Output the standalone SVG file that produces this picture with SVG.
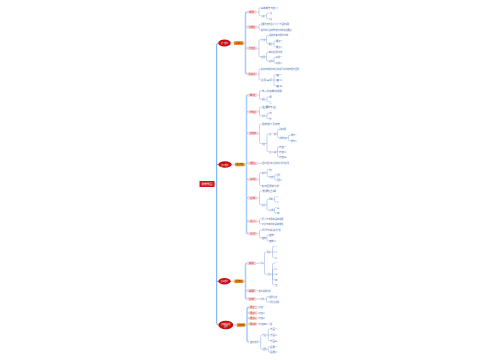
<svg xmlns="http://www.w3.org/2000/svg" width="500" height="360" viewBox="0 0 500 360">
<style>
.bg{fill:#ffffff}
.m{fill:none;stroke:#5f9ef5;stroke-width:0.9}
.s{fill:none;stroke:#a9cbf7;stroke-width:1.5}
.c{fill:none;stroke:#7aa2ee;stroke-width:0.45}
text{font-family:"Noto Sans CJK SC","Noto Sans",sans-serif;dominant-baseline:central}
.t{font-size:2.3px;fill:#5672b8}
.pk{fill:#f9d3d7}
.pt{font-size:2.2px;fill:#c0392b;text-anchor:middle}
.el{fill:#c80f0f}
.et{font-size:2.2px;fill:#ffffff;text-anchor:middle}
.or{fill:#f08a1c}
.ot{font-size:2.1px;fill:#6b2a00;text-anchor:middle}
.rt{fill:#c8161d}
</style>
<rect class="bg" x="0" y="0" width="500" height="360"/>
<g id="connectors">
<path class="m" d="M214.5 184 H216.7 M218.3 43 Q216.7 43 216.7 45 V323 Q216.7 325 218.3 325 M216.7 164.5 H218.3 M216.7 281.3 H218.3"/>
<path class="c" d="M230.8 43 H234 M231.7 164.5 H235 M230.7 281.3 H234.3 M233.3 325 H236.7"/>
<path class="s" d="M243.3 43 H245.5 M247.3 12 Q245.5 12 245.5 14 V72 Q245.5 74 247.3 74 M245.5 27 H247.3 M245.5 48.3 H247.3"/>
<path class="s" d="M244.5 164.5 H246.5 M248.3 95 Q246.5 95 246.5 97 V231.7 Q246.5 233.7 248.3 233.7 M246.5 111.7 H248.3 M246.5 133.3 H248.3 M246.5 163.3 H248.3 M246.5 179.3 H248.3 M246.5 198 H248.3 M246.5 221.3 H248.3"/>
<path class="s" d="M243.3 281.3 H245.5 M247.3 263.3 Q245.5 263.3 245.5 265.3 V297 Q245.5 299 247.3 299 M245.5 290.7 H247.3"/>
<path class="s" d="M245.2 325 H247 M249 307.3 Q247 307.3 247 309.3 V339.7 Q247 341.7 249 341.7 M247 313 H249 M247 318.3 H249 M247 324 H249"/>
<path class="c" d="M256.3 12 H259 M259 12 V8.7 Q259 7.7 260 7.7 H260.5 M259 12 V14.7 Q259 15.7 260 15.7 H260.8
M264.5 15.7 H266.5 M266.5 15.7 V14.3 Q266.5 13.3 267.5 13.3 H268.5 M266.5 15.7 V17.7 Q266.5 18.7 267.5 18.7 H268.5
M256.8 27 H259 M259 27 V25.3 Q259 24.3 260 24.3 H260.5 M259 27 V28.7 Q259 29.7 260 29.7 H260.5
M256.8 48.3 H259 M259 48.3 V40.7 Q259 39.7 260 39.7 H260.8 M259 48.3 V55.7 Q259 56.7 260 56.7 H260.8
M265 39.7 H266.5 M266.5 39.7 V36.3 Q266.5 35.3 267.5 35.3 H268.5 M266.5 39.7 V42.7 Q266.5 43.7 267.5 43.7 H268.5
M272.3 43.7 H274 M274 43.7 V42 Q274 41 275 41 H275.8 M274 43.7 V45.7 Q274 46.7 275 46.7 H275.8
M265 56.7 H266.5 M266.5 56.7 V53.3 Q266.5 52.3 267.5 52.3 H268.5 M266.5 56.7 V60 Q266.5 61 267.5 61 H268.5
M272.7 61 H274 M274 61 V58.3 Q274 57.3 275 57.3 H275.8 M274 61 V62 Q274 63 275 63 H275.8
M257 74 H259 M259 74 V70 Q259 69 260 69 H260.5 M259 74 V79 Q259 80 260 80 H260.5
M271.7 80 H275.8 M274 80 V75.7 Q274 74.7 275 74.7 H275.8 M274 80 V84.7 Q274 85.7 275 85.7 H275.8"/>
<path class="c" d="M257 95 H259.5 M259.5 95 V91.7 Q259.5 90.7 260.5 90.7 H261.5 M259.5 95 V98.3 Q259.5 99.3 260.5 99.3 H261.5
M265 99.3 H267 M267 99.3 V97.7 Q267 96.7 268 96.7 H268.8 M267 99.3 V100.7 Q267 101.7 268 101.7 H268.8
M257.5 111.7 H259.5 M259.5 111.7 V108.3 Q259.5 107.3 260.5 107.3 H261.5 M259.5 111.7 V115 Q259.5 116 260.5 116 H261.5
M265 116 H267 M267 116 V114.3 Q267 113.3 268 113.3 H268.8 M267 116 V117.7 Q267 118.7 268 118.7 H268.8
M258 133.3 H259.5 M259.5 133.3 V125.3 Q259.5 124.3 260.5 124.3 H261.5 M259.5 133.3 V142.5 Q259.5 143.5 260.5 143.5 H261.5
M265 143.5 H267 M267 143.5 V135 Q267 134 268 134 H268.8 M267 143.5 V150.7 Q267 151.7 268 151.7 H268.8
M276 134 H277.5 M277.5 134 V130.3 Q277.5 129.3 278.5 129.3 H278.8 M277.5 134 V136.7 Q277.5 137.7 278.5 137.7 H278.8
M286.7 137.7 H288.5 M288.5 137.7 V136.3 Q288.5 135.3 289.5 135.3 H290.5 M288.5 137.7 V139.7 Q288.5 140.7 289.5 140.7 H290.5
M276 151.7 H278.8 M277.5 151.7 V147.7 Q277.5 146.7 278.5 146.7 H278.8 M277.5 151.7 V156 Q277.5 157 278.5 157 H278.8
M257.5 163.3 H261.8
M257.5 179.3 H259.5 M259.5 179.3 V173.7 Q259.5 172.7 260.5 172.7 H261.5 M259.5 179.3 V184.5 Q259.5 185.5 260.5 185.5 H261.5
M265.7 172.7 H267.2 M267.2 172.7 V170.5 Q267.2 169.5 268.2 169.5 H268.8 M267.2 172.7 V175.7 Q267.2 176.7 268.2 176.7 H268.8
M273 176.7 H274.7 M274.7 176.7 V175.7 Q274.7 174.7 275.7 174.7 H276.5 M274.7 176.7 V179 Q274.7 180 275.7 180 H276.5
M257 198 H259.5 M259.5 198 V192 Q259.5 191 260.5 191 H261.5 M259.5 198 V203.7 Q259.5 204.7 260.5 204.7 H261.5
M265 204.7 H267 M267 204.7 V200.3 Q267 199.3 268 199.3 H268.8 M267 204.7 V209.3 Q267 210.3 268 210.3 H268.8
M272.7 199.3 H274.5 M274.5 199.3 V197.7 Q274.5 196.7 275.5 196.7 H276.5 M274.5 199.3 V201 Q274.5 202 275.5 202 H276.5
M273.3 210.3 H274.5 M274.5 210.3 V208.7 Q274.5 207.7 275.5 207.7 H276.5 M274.5 210.3 V212 Q274.5 213 275.5 213 H276.5
M257.3 221.3 H259.5 M259.5 221.3 V219.7 Q259.5 218.7 260.5 218.7 H261.5 M259.5 221.3 V223 Q259.5 224 260.5 224 H261.5
M257.3 233.7 H259.5 M259.5 233.7 V231 Q259.5 230 260.5 230 H261.5 M259.5 233.7 V237 Q259.5 238 260.5 238 H261.5
M265.7 238 H267 M267 238 V236.3 Q267 235.3 268 235.3 H268.8 M267 238 V240 Q267 241 268 241 H268.8"/>
<path class="c" d="M256 263.3 H259.8
M263 263.3 H264.5 M264.5 263.3 V253 Q264.5 252 265.5 252 H266.5 M264.5 263.3 V273.3 Q264.5 274.3 265.5 274.3 H266.5
M270 252 H274.8 M272.5 252 V247.7 Q272.5 246.7 273.5 246.7 H274.8 M272.5 252 V256.5 Q272.5 257.5 273.5 257.5 H274.8
M270 274.3 H274.8 M272.5 274.3 V264.3 Q272.5 263.3 273.5 263.3 H274.8 M272.5 274.3 V270 Q272.5 269 273.5 269 H274.8 M272.5 274.3 V278.7 Q272.5 279.7 273.5 279.7 H274.8 M272.5 274.3 V284 Q272.5 285 273.5 285 H274.8
M256 290.7 H258.3
M256 299 H259.8 M264 299 H266.5 M266.5 299 V297.7 Q266.5 296.7 267.5 296.7 H268.8 M266.5 299 V301 Q266.5 302 267.5 302 H268.8"/>
<path class="c" d="M257.3 307.3 H258.3 M257.3 313 H258.3 M257.3 318.3 H258.3 M257.3 324 H258.3 M266.5 324 H269.8
M258.3 341.7 H260.7 M260.7 341.7 V336 Q260.7 335 261.7 335 H262.5 M260.7 341.7 V348.3 Q260.7 349.3 261.7 349.3 H262.5
M266 335 H269.8 M268.3 335 V330.3 Q268.3 329.3 269.3 329.3 H269.8 M268.3 335 V339.7 Q268.3 340.7 269.3 340.7 H269.8
M266 349.3 H268.3 M268.3 349.3 V347.7 Q268.3 346.7 269.3 346.7 H269.8 M268.3 349.3 V351 Q268.3 352 269.3 352 H269.8"/>
</g>
<g id="root"><rect class="rt" x="199.5" y="181" width="15" height="6"/><text class="et" x="207" y="184" textLength="11" lengthAdjust="spacingAndGlyphs">思维导图</text></g>
<g id="b1"><ellipse class="el" cx="224.5" cy="43" rx="6.3" ry="3.6"/><text class="et" x="224.5" y="43" textLength="7" lengthAdjust="spacingAndGlyphs">第一部分</text></g>
<g id="b1l"><rect class="or" x="234" y="41.3" width="9.3" height="3.6"/><text class="ot" x="238.6" y="43.1" textLength="6.5" lengthAdjust="spacingAndGlyphs">基础知识</text></g>
<g id="b2"><ellipse class="el" cx="225" cy="164.5" rx="6.7" ry="3.2"/><text class="et" x="225" y="164.5" textLength="7.5" lengthAdjust="spacingAndGlyphs">第二部分</text></g>
<g id="b2l"><rect class="or" x="235" y="162.8" width="9.5" height="3.4"/><text class="ot" x="239.7" y="164.5" textLength="6.5" lengthAdjust="spacingAndGlyphs">核心内容</text></g>
<g id="b3"><ellipse class="el" cx="224.5" cy="281.3" rx="6.2" ry="3.2"/><text class="et" x="224.5" y="281.3" textLength="7" lengthAdjust="spacingAndGlyphs">第三部分</text></g>
<g id="b3l"><rect class="or" x="234.3" y="279.6" width="9" height="3.4"/><text class="ot" x="238.8" y="281.3" textLength="6.3" lengthAdjust="spacingAndGlyphs">拓展知识</text></g>
<g id="b4"><ellipse class="el" cx="225.8" cy="325" rx="7.5" ry="4.2"/><text class="et" x="225.8" y="323.8" textLength="9" lengthAdjust="spacingAndGlyphs">第四部分总结</text><text class="et" x="225.8" y="326.4" textLength="3.5" lengthAdjust="spacingAndGlyphs">回顾</text></g>
<g id="b4l"><rect class="or" x="236.7" y="323.3" width="8.5" height="3.4"/><text class="ot" x="240.9" y="325" textLength="6" lengthAdjust="spacingAndGlyphs">总结归纳</text></g>
<g id="pA"><rect class="pk" x="247.3" y="10.3" width="9" height="3.4"/><text class="pt" x="251.8" y="12" textLength="5" lengthAdjust="spacingAndGlyphs">概念</text></g>
<g id="pB"><rect class="pk" x="247.3" y="25.3" width="9.7" height="3.4"/><text class="pt" x="252.1" y="27" textLength="6" lengthAdjust="spacingAndGlyphs">内容要点</text></g>
<g id="pC"><rect class="pk" x="247.3" y="46.6" width="9.7" height="3.4"/><text class="pt" x="252.1" y="48.3" textLength="6" lengthAdjust="spacingAndGlyphs">方法应用</text></g>
<g id="pD"><rect class="pk" x="247.3" y="72.3" width="9.7" height="3.4"/><text class="pt" x="252.1" y="74" textLength="6.5" lengthAdjust="spacingAndGlyphs">总结注意</text></g>
<g id="pE"><rect class="pk" x="248.3" y="93.3" width="8.7" height="3.4"/><text class="pt" x="252.6" y="95" textLength="5.5" lengthAdjust="spacingAndGlyphs">概述</text></g>
<g id="pF"><rect class="pk" x="248.3" y="110" width="9.2" height="3.4"/><text class="pt" x="252.9" y="111.7" textLength="5.5" lengthAdjust="spacingAndGlyphs">特征</text></g>
<g id="pG"><rect class="pk" x="248.3" y="131.6" width="9.7" height="3.4"/><text class="pt" x="253.1" y="133.3" textLength="6" lengthAdjust="spacingAndGlyphs">结构组成</text></g>
<g id="pH"><rect class="pk" x="248.3" y="161.6" width="9.2" height="3.4"/><text class="pt" x="252.9" y="163.3" textLength="5.5" lengthAdjust="spacingAndGlyphs">理论</text></g>
<g id="pI"><rect class="pk" x="248.3" y="177.6" width="9.2" height="3.4"/><text class="pt" x="252.9" y="179.3" textLength="5.5" lengthAdjust="spacingAndGlyphs">条件</text></g>
<g id="pJ"><rect class="pk" x="248.3" y="196.3" width="8.7" height="3.4"/><text class="pt" x="252.6" y="198" textLength="5.5" lengthAdjust="spacingAndGlyphs">过程</text></g>
<g id="pK"><rect class="pk" x="248.3" y="219.6" width="9" height="3.4"/><text class="pt" x="252.8" y="221.3" textLength="5.5" lengthAdjust="spacingAndGlyphs">意义</text></g>
<g id="pL"><rect class="pk" x="248.3" y="232" width="9" height="3.4"/><text class="pt" x="252.8" y="233.7" textLength="5.5" lengthAdjust="spacingAndGlyphs">问题</text></g>
<g id="pM"><rect class="pk" x="247.3" y="261.6" width="8.7" height="3.4"/><text class="pt" x="251.6" y="263.3" textLength="5.5" lengthAdjust="spacingAndGlyphs">类别</text></g>
<g id="pN"><rect class="pk" x="247.3" y="289" width="8.7" height="3.4"/><text class="pt" x="251.6" y="290.7" textLength="5.5" lengthAdjust="spacingAndGlyphs">说明</text></g>
<g id="pO"><rect class="pk" x="247.3" y="297.3" width="8.7" height="3.4"/><text class="pt" x="251.6" y="299" textLength="5.5" lengthAdjust="spacingAndGlyphs">比较</text></g>
<g id="pP"><rect class="pk" x="249" y="305.6" width="8.3" height="3.4"/><text class="pt" x="253.1" y="307.3" textLength="5.5" lengthAdjust="spacingAndGlyphs">要点一</text></g>
<g id="pQ"><rect class="pk" x="249" y="311.3" width="8.3" height="3.4"/><text class="pt" x="253.1" y="313" textLength="5.5" lengthAdjust="spacingAndGlyphs">要点二</text></g>
<g id="pR"><rect class="pk" x="249" y="316.6" width="8.3" height="3.4"/><text class="pt" x="253.1" y="318.3" textLength="5.5" lengthAdjust="spacingAndGlyphs">要点三</text></g>
<g id="pS"><rect class="pk" x="249" y="322.3" width="8.3" height="3.4"/><text class="pt" x="253.1" y="324" textLength="5.5" lengthAdjust="spacingAndGlyphs">要点四</text></g>
<g id="leaves">
<g id="tA1"><text class="t" x="260.7" y="7.7" textLength="17" lengthAdjust="spacingAndGlyphs">基本概念与定义</text></g>
<g id="tA2"><text class="t" x="261" y="15.7" textLength="3.5" lengthAdjust="spacingAndGlyphs">分类</text></g>
<g id="tA2a"><text class="t" x="268.7" y="13.3" textLength="3" lengthAdjust="spacingAndGlyphs">一类</text></g>
<g id="tA2b"><text class="t" x="268.7" y="18.7" textLength="3" lengthAdjust="spacingAndGlyphs">二类</text></g>
<g id="tB1"><text class="t" x="260.7" y="24.3" textLength="28.6" lengthAdjust="spacingAndGlyphs">主要内容包括以下几个方面的说明</text></g>
<g id="tB2"><text class="t" x="260.7" y="29.7" textLength="31" lengthAdjust="spacingAndGlyphs">相关知识点的整理与归纳总结要点</text></g>
<g id="tC1"><text class="t" x="261" y="39.7" textLength="4" lengthAdjust="spacingAndGlyphs">方法</text></g>
<g id="tC1a"><text class="t" x="268.7" y="35.3" textLength="19.6" lengthAdjust="spacingAndGlyphs">具体步骤与操作流程</text></g>
<g id="tC1b"><text class="t" x="268.7" y="43.7" textLength="3.6" lengthAdjust="spacingAndGlyphs">要点</text></g>
<g id="tC1b1"><text class="t" x="276" y="41" textLength="6.7" lengthAdjust="spacingAndGlyphs">要点一</text></g>
<g id="tC1b2"><text class="t" x="276" y="46.7" textLength="6" lengthAdjust="spacingAndGlyphs">要点二</text></g>
<g id="tC2"><text class="t" x="261" y="56.7" textLength="4" lengthAdjust="spacingAndGlyphs">应用</text></g>
<g id="tC2a"><text class="t" x="268.7" y="52.3" textLength="13.5" lengthAdjust="spacingAndGlyphs">实际应用场景</text></g>
<g id="tC2b"><text class="t" x="268.7" y="61" textLength="4" lengthAdjust="spacingAndGlyphs">案例</text></g>
<g id="tC2b1"><text class="t" x="276" y="57.3" textLength="6" lengthAdjust="spacingAndGlyphs">案例一</text></g>
<g id="tC2b2"><text class="t" x="276" y="63" textLength="6" lengthAdjust="spacingAndGlyphs">案例二</text></g>
<g id="tD1"><text class="t" x="260.7" y="69" textLength="38.3" lengthAdjust="spacingAndGlyphs">总结归纳相关知识并进行系统的梳理与回顾</text></g>
<g id="tD2"><text class="t" x="260.7" y="80" textLength="11" lengthAdjust="spacingAndGlyphs">注意事项</text></g>
<g id="tD2a"><text class="t" x="276" y="74.7" textLength="6.3" lengthAdjust="spacingAndGlyphs">其一</text></g>
<g id="tD2b"><text class="t" x="276" y="80" textLength="6.3" lengthAdjust="spacingAndGlyphs">其二</text></g>
<g id="tD2c"><text class="t" x="276" y="85.7" textLength="6.3" lengthAdjust="spacingAndGlyphs">其三</text></g>
<g id="tE1"><text class="t" x="261.7" y="90.7" textLength="20" lengthAdjust="spacingAndGlyphs">核心内容概述说明</text></g>
<g id="tE2"><text class="t" x="261.7" y="99.3" textLength="3.3" lengthAdjust="spacingAndGlyphs">类型</text></g>
<g id="tE2a"><text class="t" x="269" y="96.7" textLength="2.7" lengthAdjust="spacingAndGlyphs">甲</text></g>
<g id="tE2b"><text class="t" x="269" y="101.7" textLength="2.7" lengthAdjust="spacingAndGlyphs">乙</text></g>
<g id="tF1"><text class="t" x="261.7" y="107.3" textLength="14.3" lengthAdjust="spacingAndGlyphs">主要特征</text></g>
<g id="tF2"><text class="t" x="261.7" y="116" textLength="3.3" lengthAdjust="spacingAndGlyphs">形式</text></g>
<g id="tF2a"><text class="t" x="269" y="113.3" textLength="2.7" lengthAdjust="spacingAndGlyphs">内</text></g>
<g id="tF2b"><text class="t" x="269" y="118.7" textLength="2.7" lengthAdjust="spacingAndGlyphs">外</text></g>
<g id="tG1"><text class="t" x="261.7" y="124.3" textLength="18.3" lengthAdjust="spacingAndGlyphs">组成部分及结构</text></g>
<g id="tG2"><text class="t" x="261.7" y="143.5" textLength="3.3" lengthAdjust="spacingAndGlyphs">内容</text></g>
<g id="tG2a"><text class="t" x="269" y="134" textLength="7" lengthAdjust="spacingAndGlyphs">第一类</text></g>
<g id="tG2a1"><text class="t" x="279" y="129.3" textLength="7" lengthAdjust="spacingAndGlyphs">具体说明</text></g>
<g id="tG2a2"><text class="t" x="279" y="137.7" textLength="7.7" lengthAdjust="spacingAndGlyphs">详细内容</text></g>
<g id="tG2a2a"><text class="t" x="290.7" y="135.3" textLength="6" lengthAdjust="spacingAndGlyphs">细节一</text></g>
<g id="tG2a2b"><text class="t" x="290.7" y="140.7" textLength="6" lengthAdjust="spacingAndGlyphs">细节二</text></g>
<g id="tG2b"><text class="t" x="269" y="151.7" textLength="7" lengthAdjust="spacingAndGlyphs">第二类</text></g>
<g id="tG2b1"><text class="t" x="279" y="146.7" textLength="7.7" lengthAdjust="spacingAndGlyphs">内容一</text></g>
<g id="tG2b2"><text class="t" x="279" y="151.7" textLength="7.7" lengthAdjust="spacingAndGlyphs">内容二</text></g>
<g id="tG2b3"><text class="t" x="279" y="157" textLength="7.7" lengthAdjust="spacingAndGlyphs">内容三</text></g>
<g id="tH1"><text class="t" x="262" y="163.3" textLength="27" lengthAdjust="spacingAndGlyphs">相关理论知识点的分析与应用</text></g>
<g id="tI1"><text class="t" x="261.7" y="172.7" textLength="4" lengthAdjust="spacingAndGlyphs">条件</text></g>
<g id="tI1a"><text class="t" x="269" y="169.5" textLength="2.7" lengthAdjust="spacingAndGlyphs">内</text></g>
<g id="tI1b"><text class="t" x="269" y="176.7" textLength="4" lengthAdjust="spacingAndGlyphs">外部</text></g>
<g id="tI1b1"><text class="t" x="276.7" y="174.7" textLength="4.5" lengthAdjust="spacingAndGlyphs">因素一</text></g>
<g id="tI1b2"><text class="t" x="276.7" y="180" textLength="5.5" lengthAdjust="spacingAndGlyphs">因素二</text></g>
<g id="tI2"><text class="t" x="261.7" y="185.5" textLength="17.6" lengthAdjust="spacingAndGlyphs">影响因素的分析</text></g>
<g id="tJ1"><text class="t" x="261.7" y="191" textLength="14.3" lengthAdjust="spacingAndGlyphs">发展过程</text></g>
<g id="tJ2"><text class="t" x="261.7" y="204.7" textLength="3.3" lengthAdjust="spacingAndGlyphs">阶段</text></g>
<g id="tJ2a"><text class="t" x="269" y="199.3" textLength="3.7" lengthAdjust="spacingAndGlyphs">早期</text></g>
<g id="tJ2a1"><text class="t" x="276.7" y="196.7" textLength="2" lengthAdjust="spacingAndGlyphs">一</text></g>
<g id="tJ2a2"><text class="t" x="276.7" y="202" textLength="2" lengthAdjust="spacingAndGlyphs">二</text></g>
<g id="tJ2b"><text class="t" x="269" y="210.3" textLength="4.3" lengthAdjust="spacingAndGlyphs">后期</text></g>
<g id="tJ2b1"><text class="t" x="276.7" y="207.7" textLength="2.7" lengthAdjust="spacingAndGlyphs">三</text></g>
<g id="tJ2b2"><text class="t" x="276.7" y="213" textLength="2.7" lengthAdjust="spacingAndGlyphs">四</text></g>
<g id="tK1"><text class="t" x="261.7" y="218.7" textLength="21.6" lengthAdjust="spacingAndGlyphs">意义与作用的具体说明</text></g>
<g id="tK2"><text class="t" x="261.7" y="224" textLength="21.6" lengthAdjust="spacingAndGlyphs">价值与影响的具体体现</text></g>
<g id="tL1"><text class="t" x="261.7" y="230" textLength="19" lengthAdjust="spacingAndGlyphs">问题与解决方法</text></g>
<g id="tL2"><text class="t" x="261.7" y="238" textLength="4" lengthAdjust="spacingAndGlyphs">措施</text></g>
<g id="tL2a"><text class="t" x="269" y="235.3" textLength="6.7" lengthAdjust="spacingAndGlyphs">措施一</text></g>
<g id="tL2b"><text class="t" x="269" y="241" textLength="7" lengthAdjust="spacingAndGlyphs">措施二</text></g>
<g id="tM1"><text class="t" x="260" y="263.3" textLength="3" lengthAdjust="spacingAndGlyphs">分类</text></g>
<g id="tM1a"><text class="t" x="266.7" y="252" textLength="3.3" lengthAdjust="spacingAndGlyphs">甲类</text></g>
<g id="tM1a1"><text class="t" x="275" y="246.7" textLength="2" lengthAdjust="spacingAndGlyphs">一</text></g>
<g id="tM1a2"><text class="t" x="275" y="252" textLength="2" lengthAdjust="spacingAndGlyphs">二</text></g>
<g id="tM1a3"><text class="t" x="275" y="257.5" textLength="2" lengthAdjust="spacingAndGlyphs">三</text></g>
<g id="tM1b"><text class="t" x="266.7" y="274.3" textLength="3.3" lengthAdjust="spacingAndGlyphs">乙类</text></g>
<g id="tM1b1"><text class="t" x="275" y="263.3" textLength="2.3" lengthAdjust="spacingAndGlyphs">一</text></g>
<g id="tM1b2"><text class="t" x="275" y="269" textLength="2.3" lengthAdjust="spacingAndGlyphs">二</text></g>
<g id="tM1b3"><text class="t" x="275" y="274.3" textLength="2.3" lengthAdjust="spacingAndGlyphs">三</text></g>
<g id="tM1b4"><text class="t" x="275" y="279.7" textLength="2.3" lengthAdjust="spacingAndGlyphs">四</text></g>
<g id="tM1b5"><text class="t" x="275" y="285" textLength="2.3" lengthAdjust="spacingAndGlyphs">五</text></g>
<g id="tN1"><text class="t" x="258.5" y="290.7" textLength="12" lengthAdjust="spacingAndGlyphs">相关说明内容</text></g>
<g id="tO1"><text class="t" x="260" y="299" textLength="4" lengthAdjust="spacingAndGlyphs">比较</text></g>
<g id="tO1a"><text class="t" x="269" y="296.7" textLength="8.3" lengthAdjust="spacingAndGlyphs">相同之处</text></g>
<g id="tO1b"><text class="t" x="269" y="302" textLength="10" lengthAdjust="spacingAndGlyphs">不同之处说明</text></g>
<g id="tP1"><text class="t" x="258.5" y="307.3" textLength="6.5" lengthAdjust="spacingAndGlyphs">内容一</text></g>
<g id="tQ1"><text class="t" x="258.5" y="313" textLength="6.5" lengthAdjust="spacingAndGlyphs">内容二</text></g>
<g id="tR1"><text class="t" x="258.5" y="318.3" textLength="6.5" lengthAdjust="spacingAndGlyphs">内容三</text></g>
<g id="tS1"><text class="t" x="258.5" y="324" textLength="8" lengthAdjust="spacingAndGlyphs">内容四</text></g>
<g id="tS1a"><text class="t" x="270" y="324" textLength="2" lengthAdjust="spacingAndGlyphs">略</text></g>
<g id="tT"><text class="t" x="250" y="341.7" textLength="8.3" lengthAdjust="spacingAndGlyphs">其他相关</text></g>
<g id="tT1"><text class="t" x="262.7" y="335" textLength="3.3" lengthAdjust="spacingAndGlyphs">方面</text></g>
<g id="tT1a"><text class="t" x="270" y="329.3" textLength="7.3" lengthAdjust="spacingAndGlyphs">方面一</text></g>
<g id="tT1b"><text class="t" x="270" y="335" textLength="7.3" lengthAdjust="spacingAndGlyphs">方面二</text></g>
<g id="tT1c"><text class="t" x="270" y="340.7" textLength="7.3" lengthAdjust="spacingAndGlyphs">方面三</text></g>
<g id="tT2"><text class="t" x="262.7" y="349.3" textLength="3.3" lengthAdjust="spacingAndGlyphs">拓展</text></g>
<g id="tT2a"><text class="t" x="270" y="346.7" textLength="7.3" lengthAdjust="spacingAndGlyphs">拓展一</text></g>
<g id="tT2b"><text class="t" x="270" y="352" textLength="7.3" lengthAdjust="spacingAndGlyphs">拓展二</text></g>
</g>
</svg>
